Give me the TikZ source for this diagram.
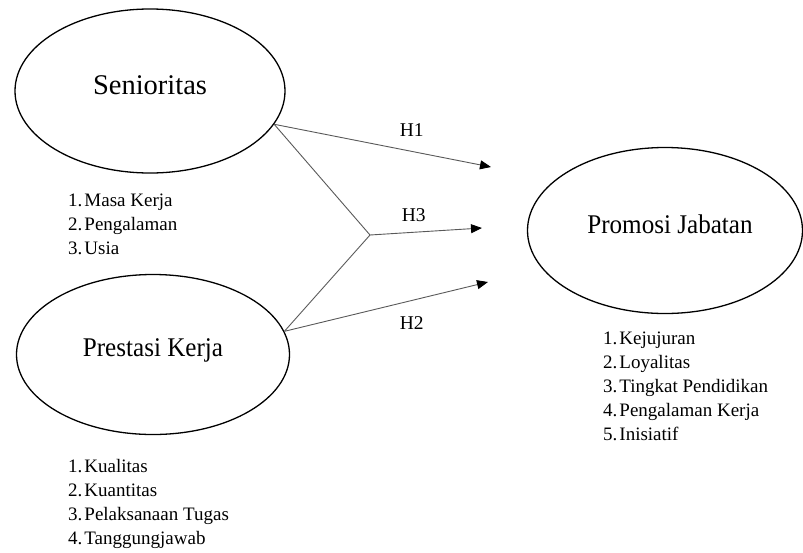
\documentclass[tikz,border=0pt]{standalone}
\usepackage{fontspec}
\setmainfont{Liberation Serif}
\newfontfamily\condfont{Liberation Serif}[FakeStretch=0.93]
\usetikzlibrary{shapes.geometric,arrows.meta}
\begin{document}
\begin{tikzpicture}[x=1pt,y=-1pt,
  var/.style={draw=black,line width=1.3pt,ellipse,inner sep=0pt},
  conn/.style={draw=black!65,line width=0.9pt},
  arr/.style={conn,-{Triangle[length=11pt,width=9pt,color=black]}},
  titleA/.style={inner sep=0pt,anchor=base,font=\fontsize{28.5}{30}\selectfont},
  titleB/.style={inner sep=0pt,anchor=base,font=\condfont\fontsize{27}{30}\selectfont},
  hlab/.style={inner sep=0pt,anchor=base,font=\fontsize{19.5}{22}\selectfont},
  items/.style={inner sep=0pt,anchor=north west,align=left,font=\fontsize{19}{24}\selectfont}
]
\useasboundingbox (0,0) rectangle (803,552);

% ellipses
\node[var,minimum width=270pt,minimum height=164pt] (sen) at (150,91) {};
\node[var,minimum width=273pt,minimum height=160pt] (pres) at (153,354.5) {};
\node[var,minimum width=275pt,minimum height=166pt] (prom) at (665,230.5) {};

% titles
\node[titleA] (senT) at (150,94) {Senioritas};
\node[titleB] (presT) at (153,356) {Prestasi Kerja};
\node[titleB] (promT) at (670,233) {Promosi Jabatan};

% indicator lists
\node[items] (senL) at (68,194) {1.\hspace{2pt}Masa Kerja\\2.\hspace{2pt}Pengalaman\\3.\hspace{2pt}Usia};
\node[items] (presL) at (68,459) {1.\hspace{2pt}Kualitas\\2.\hspace{2pt}Kuantitas\\3.\hspace{2pt}Pelaksanaan Tugas\\4.\hspace{2pt}Tanggungjawab};
\node[items] (promL) at (603,332) {1.\hspace{2pt}Kejujuran\\2.\hspace{2pt}Loyalitas\\3.\hspace{2pt}Tingkat Pendidikan\\4.\hspace{2pt}Pengalaman Kerja\\5.\hspace{2pt}Inisiatif};

% connector points
\coordinate (j) at (370,235);
\coordinate (t1) at (491,167);
\coordinate (t3) at (482,228);
\coordinate (t2) at (488,282);

\draw[arr] (sen.-15.45) -- (t1);
\draw[conn] (sen.-15.45) -- (j);
\draw[conn] (pres.10.1) -- (j);
\draw[arr] (j) -- (t3);
\draw[arr] (pres.10.1) -- (t2);

% hypothesis labels
\node[hlab] (h1) at (411.7,136) {H1};
\node[hlab] (h3) at (413.7,221.7) {H3};
\node[hlab] (h2) at (411.7,329.3) {H2};
\end{tikzpicture}
\end{document}
